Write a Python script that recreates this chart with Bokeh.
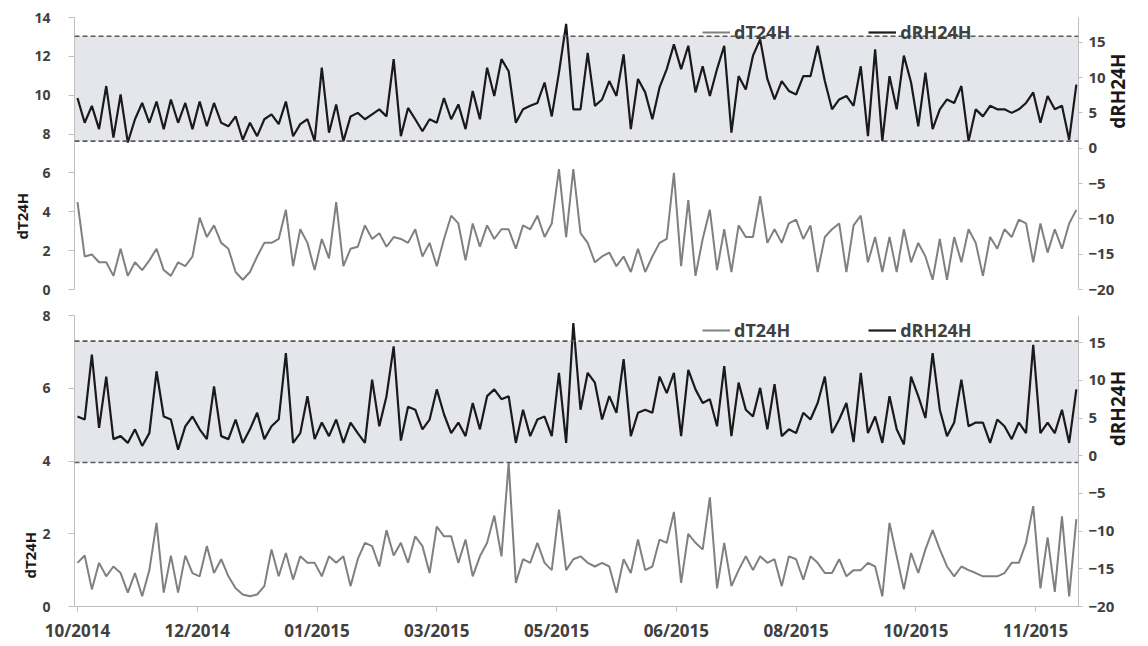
import math
from bokeh.plotting import figure
from bokeh.models import (Range1d, LinearAxis, FixedTicker, BoxAnnotation, Span,
                          Legend, LegendItem, Title)
from bokeh.layouts import column
from bokeh.embed import file_html
from bokeh.resources import INLINE

# ---- data -------------------------------------------------------------
# day index since start of record (sampled every 3 days)
days = list(range(0, 418, 3))

tick_days = [0, 50, 100, 150, 200, 250, 300, 350, 400]
tick_labels = ["10/2014", "12/2014", "01/2015", "03/2015", "05/2015",
               "06/2015", "08/2015", "10/2015", "11/2015"]

# upper panel
top_dT = [4.5, 1.7, 1.8, 1.4, 1.4, 0.7, 2.1, 0.7, 1.4, 1.0, 1.5, 2.1, 1.0, 0.7, 1.4, 1.2,
          1.7, 3.7, 2.7, 3.3, 2.4, 2.1, 0.9, 0.5, 0.9, 1.7, 2.4, 2.4, 2.6, 4.1, 1.2, 3.1,
          2.4, 1.0, 2.6, 1.6, 4.5, 1.2, 2.1, 2.2, 3.3, 2.6, 2.9, 2.2, 2.7, 2.6, 2.4,
          3.1, 1.7, 2.4, 1.2, 2.6, 3.8, 3.4, 1.5, 3.4, 2.2, 3.3, 2.6, 3.1, 3.1, 2.1, 3.3,
          3.1, 3.8, 2.7, 3.4, 6.2, 2.7, 6.2, 2.9, 2.4, 1.4, 1.7, 1.9, 1.2, 1.7, 0.9, 2.1,
          0.9, 1.7, 2.4, 2.6, 6.0, 1.2, 4.6, 0.7, 2.6, 4.1, 1.0, 3.1, 0.9, 3.3, 2.7,
          2.7, 4.8, 2.4, 3.1, 2.4, 3.4, 3.6, 2.6, 3.3, 0.9, 2.7, 3.1, 3.4, 0.9, 3.3, 3.8,
          1.4, 2.7, 0.9, 2.7, 0.9, 3.1, 1.4, 2.4, 1.7, 0.5, 2.6, 0.5, 2.7, 1.4, 3.1, 2.4,
          0.7, 2.7, 2.1, 3.1, 2.7, 3.6, 3.4, 1.4, 3.4, 1.9, 3.1, 2.1, 3.4, 4.1]
top_dRH = [7.1, 3.6, 6.0, 2.7, 8.8, 1.5, 7.6, 0.8, 4.1, 6.4, 3.6, 6.6, 2.7, 6.9, 3.6, 6.4,
           2.7, 6.6, 3.1, 6.4, 3.6, 3.1, 4.5, 1.2, 3.6, 1.7, 4.1, 4.8, 3.4, 6.6, 1.7, 3.4,
           4.1, 1.0, 11.4, 2.2, 6.2, 1.0, 4.5, 5.0, 4.1, 4.8, 5.5, 4.5, 12.6, 1.7, 5.7,
           4.1, 2.4, 4.1, 3.6, 7.1, 4.1, 6.2, 2.7, 8.1, 4.1, 11.4, 7.4, 12.6, 10.9, 3.6, 5.5,
           6.0, 6.4, 9.3, 4.5, 10.7, 17.6, 5.5, 5.5, 13.5, 6.0, 6.9, 9.5, 7.4, 13.3, 2.7, 9.8,
           7.9, 4.1, 8.6, 11.2, 14.7, 11.2, 14.5, 7.9, 11.6, 7.4, 11.2, 14.5, 2.2, 10.2, 8.3,
           13.1, 15.4, 9.8, 6.9, 9.5, 8.1, 7.6, 10.2, 10.2, 14.5, 9.5, 5.5, 6.9, 7.4, 6.0, 11.6,
           1.7, 14.0, 1.0, 10.2, 5.5, 13.1, 9.3, 3.1, 10.7, 2.7, 5.5, 6.9, 6.4, 8.8, 1.0, 5.5,
           4.5, 6.0, 5.5, 5.5, 5.0, 5.5, 6.4, 7.9, 3.6, 7.4, 5.5, 6.0, 1.2, 9.0]

# lower panel
bot_dT = [1.2, 1.4, 0.47, 1.2, 0.83, 1.1, 0.92, 0.38, 0.92, 0.28, 1.0, 2.3, 0.38, 1.4, 0.38,
          1.4, 0.92, 0.83, 1.66, 0.92, 1.3, 0.83, 0.5, 0.33, 0.28, 0.33, 0.56, 1.57, 0.83,
          1.47, 0.74, 1.38, 1.2, 1.2, 0.83, 1.38, 1.2, 1.38, 0.56, 1.3, 1.75, 1.66, 1.1, 2.1,
          1.4, 1.75, 1.2,
          1.93, 1.66, 0.92, 2.2, 1.93, 1.93, 1.2, 1.84, 0.83, 1.38, 1.75, 2.5, 1.38, 3.95,
          0.65, 1.3, 1.2, 1.75, 1.2, 1.0, 2.66, 1.0, 1.3, 1.38, 1.2, 1.1, 1.2, 1.1, 0.38, 1.3,
          0.92, 1.84, 1.0, 1.1, 1.84, 1.75, 2.6, 0.65, 2.0, 1.75, 1.57, 3.0, 0.5, 1.75, 0.56,
          1.0, 1.38,
          1.0, 1.38, 1.2, 1.3, 0.56, 1.38, 1.3, 0.74, 1.38, 1.2, 0.92, 0.92, 1.3, 0.83, 1.0,
          1.0, 1.2, 1.1, 0.28, 2.3, 1.38, 0.47, 1.47, 0.92, 1.57, 2.1, 1.57, 1.1, 0.83, 1.1,
          1.0, 0.92, 0.83, 0.83, 0.83, 0.92, 1.2, 1.2, 1.75, 2.76, 0.5, 1.9, 0.4, 2.48, 0.28,
          2.4]
bot_dRH = [5.2, 4.8, 13.4, 3.7, 10.5, 2.2, 2.6, 1.7, 3.5, 1.3, 3.0, 11.2, 5.2, 4.8, 0.8,
           3.9, 5.2, 3.5, 2.2, 9.2, 2.6, 2.2, 4.8, 1.7, 3.5, 5.7, 2.2, 3.9, 4.8, 13.6, 1.7,
           3.0, 7.9, 2.2, 4.4, 2.6, 4.8, 1.7, 4.4, 3.0, 1.7, 10.1, 3.9, 7.9, 14.5, 2.0, 6.5,
           6.1, 3.5, 4.8, 8.8, 5.5, 3.0, 4.4, 2.6, 7.0, 3.5, 7.9, 8.8, 7.5, 7.9, 1.7, 6.1,
           2.6, 4.8, 5.2, 2.6, 11.0, 1.7, 17.6, 6.1, 11.0, 9.7, 4.8, 7.9, 5.7, 12.8, 2.6,
           5.7, 6.1, 5.7, 10.5, 8.3, 11.0, 2.6, 11.4, 8.8, 7.0, 7.5, 3.9, 11.9, 2.6, 9.7, 6.1,
           5.2, 9.0, 3.5, 9.5, 2.6, 3.5, 3.0, 5.7, 4.8, 7.0, 10.5, 3.0, 4.8, 7.0, 1.8, 11.0,
           3.0, 5.2, 1.7, 7.9, 3.5, 1.5, 10.5, 7.9, 5.0, 13.6, 6.1, 2.6, 4.4, 10.1, 3.9, 4.4,
           4.4, 1.7, 4.8, 3.9, 2.2, 4.4, 3.0, 14.7, 3.0, 4.4, 3.0, 6.1, 1.7, 8.8]

# dashed limits of the shaded band (right axis units)
top_band = (1.0, 15.85)
bot_band = (-0.9, 15.2)

FONT = "Open Sans"
TXT = "#404040"
AX = "#BFBFBF"
W = 1146
NB = "\u00a0"


def panel(dT, dRH, left_max, left_ticks, right_rng, band, height, top, fh, show_x,
          leg_y, left_off, right_pad):
    p = figure(width=W, height=height, x_range=Range1d(-1.25, 417.9),
               y_range=Range1d(0, left_max), output_backend="svg",
               toolbar_location=None, x_axis_location="below" if show_x else None,
               min_border_left=74, min_border_right=66, min_border_top=top,
               min_border_bottom=height - top - fh)
    p.extra_y_ranges = {"rh": Range1d(*right_rng)}
    p.grid.visible = False
    p.outline_line_color = None
    p.background_fill_color = "white"

    p.add_layout(BoxAnnotation(bottom=band[0], top=band[1], y_range_name="rh",
                               fill_color="#E4E6EB", fill_alpha=1.0,
                               line_color=None, level="underlay"))
    for v in band:
        p.add_layout(Span(location=v, dimension="width", y_range_name="rh",
                          line_color="#595959", line_dash="5 3", line_width=1.6))

    g = p.line(days, dT, line_color="#808080", line_width=2)
    b = p.line(days, dRH, line_color="#1A1A1A", line_width=2.2, y_range_name="rh")

    ya = p.yaxis[0]
    ya.ticker = FixedTicker(ticks=left_ticks)
    ya.major_label_text_font = FONT
    ya.major_label_text_font_size = "14px"
    ya.major_label_text_font_style = "bold"
    ya.major_label_text_color = TXT
    ya.major_label_standoff = 18
    ya.axis_line_color = AX
    ya.major_tick_line_color = AX
    ya.major_tick_in = 0
    ya.major_tick_out = 6
    ya.minor_tick_line_color = None
    p.add_layout(Title(text="dT24H", align="left", offset=left_off, standoff=0,
                       text_font=FONT, text_font_size="15px", text_font_style="bold",
                       text_color="#1A1A1A"), "left")

    ra = LinearAxis(y_range_name="rh", ticker=FixedTicker(ticks=[-20, -15, -10, -5, 0, 5, 10, 15]))
    ra.major_label_text_font = FONT
    ra.major_label_text_font_size = "15px"
    ra.major_label_text_font_style = "bold"
    ra.major_label_text_color = TXT
    ra.major_label_standoff = 6
    ra.axis_line_color = AX
    ra.major_tick_line_color = AX
    ra.major_tick_in = 0
    ra.major_tick_out = 4
    ra.minor_tick_line_color = None
    p.add_layout(ra, "right")

    rt = LinearAxis(y_range_name="rh", ticker=FixedTicker(ticks=[]),
                    axis_label=NB * right_pad + "dRH24H",
                    axis_line_color=None, major_tick_line_color=None,
                    minor_tick_line_color=None, axis_label_standoff=0,
                    axis_label_text_font=FONT, axis_label_text_font_size="19px",
                    axis_label_text_font_style="bold", axis_label_text_color="#1A1A1A")
    rt.axis_label_orientation = math.pi / 2
    p.add_layout(rt, "right")

    if show_x:
        xa = p.xaxis[0]
        xa.ticker = FixedTicker(ticks=tick_days)
        xa.major_label_overrides = {d: l for d, l in zip(tick_days, tick_labels)}
        xa.major_label_text_font = FONT
        xa.major_label_text_font_size = "17px"
        xa.major_label_text_font_style = "bold"
        xa.major_label_text_color = TXT
        xa.major_label_standoff = 7
        xa.axis_line_color = AX
        xa.major_tick_line_color = AX
        xa.major_tick_in = 0
        xa.major_tick_out = 5
        xa.minor_tick_line_color = None

    leg = Legend(items=[LegendItem(label="dT24H", renderers=[g]),
                        LegendItem(label="dRH24H", renderers=[b])],
                 orientation="horizontal", location=(628, leg_y),
                 glyph_width=28, glyph_height=20, label_height=20,
                 label_standoff=4, spacing=78, padding=0, margin=0,
                 border_line_color=None, background_fill_alpha=0,
                 label_text_font=FONT, label_text_font_size="18px",
                 label_text_font_style="bold", label_text_color=TXT)
    p.add_layout(leg)
    return p


p1 = panel(top_dT, top_dRH, 14, [0, 2, 4, 6, 8, 10, 12, 14], (-20, 18.5), top_band,
           302, 17, 272, False, 245, 50, 5)
p2 = panel(bot_dT, bot_dRH, 8, [0, 2, 4, 6, 8], (-20, 18.6), bot_band,
           342, 13, 291, True, 264, 28, 3)

layout = column(p1, p2, spacing=0)
open("out.html", "w").write(file_html(layout, INLINE))
